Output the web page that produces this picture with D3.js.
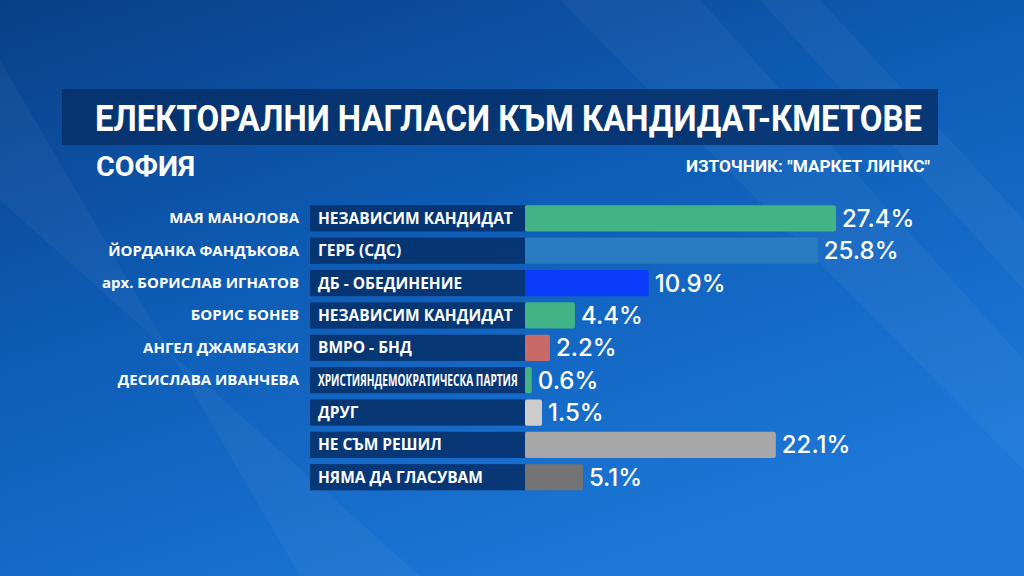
<!DOCTYPE html>
<html>
<head>
<meta charset="utf-8">
<script src="https://cdn.jsdelivr.net/npm/d3@7"></script>
<style>
  html, body { margin: 0; padding: 0; background: #0b4a94; }
  svg { display: block; }
</style>
</head>
<body>
<svg class="vis" width="1024" height="576"></svg>
<script>
// data
const candidates = ["МАЯ МАНОЛОВА", "ЙОРДАНКА ФАНДЪКОВА", "арх. БОРИСЛАВ ИГНАТОВ", "БОРИС БОНЕВ", "АНГЕЛ ДЖАМБАЗКИ", "ДЕСИСЛАВА ИВАНЧЕВА", "", "", ""];
const parties = ["НЕЗАВИСИМ КАНДИДАТ", "ГЕРБ (СДС)", "ДБ - ОБЕДИНЕНИЕ", "НЕЗАВИСИМ КАНДИДАТ", "ВМРО - БНД", "ХРИСТИЯНДЕМОКРАТИЧЕСКА ПАРТИЯ", "ДРУГ", "НЕ СЪМ РЕШИЛ", "НЯМА ДА ГЛАСУВАМ"];
const values = [27.4, 25.8, 10.9, 4.4, 2.2, 0.6, 1.5, 22.1, 5.1];
const barColors = ["#41b386", "#2a7cc0", "#0a3dfb", "#41b386", "#c76a68", "#41b386", "#cdcdcd", "#a7a7a7", "#747474"];

const title = "ЕЛЕКТОРАЛНИ НАГЛАСИ КЪМ КАНДИДАТ-КМЕТОВЕ";
const subtitle = "СОФИЯ";
const source = "ИЗТОЧНИК: \"МАРКЕТ ЛИНКС\"";

const rows = values.map((v, i) => ({
    name: candidates[i], party: parties[i], value: v, color: barColors[i]
}));

const svg = d3.select("svg.vis");
const W = 1024, H = 576;
const font = "'Open Sans', sans-serif";

// background
const defs = svg.append("defs");
const bg = defs.append("linearGradient").attr("id", "bg")
    .attr("x1", "0").attr("y1", "0").attr("x2", "0.6").attr("y2", "1");
bg.append("stop").attr("offset", "0").attr("stop-color", "#0a3f86");
bg.append("stop").attr("offset", "0.45").attr("stop-color", "#0d5bb4");
bg.append("stop").attr("offset", "1").attr("stop-color", "#1d78d8");
svg.append("rect").attr("width", W).attr("height", H).attr("fill", "url(#bg)");

// faint light streaks
const streaks = [
    [[560, 0], [700, 0], [1024, 360], [1024, 470]],
    [[0, 60], [0, 200], [420, 576], [300, 576]],
    [[760, 0], [820, 0], [1024, 220], [1024, 290]]
];
svg.append("g").selectAll("path").data(streaks).join("path")
    .attr("d", d => "M" + d.join("L") + "Z")
    .attr("fill", "#ffffff")
    .attr("opacity", 0.04);

// title banner
svg.append("rect")
    .attr("x", 62).attr("y", 89).attr("width", 876).attr("height", 56)
    .attr("fill", "#06306a").attr("opacity", 0.85);

svg.append("text")
    .attr("x", 95).attr("y", 131)
    .attr("textLength", 827).attr("lengthAdjust", "spacingAndGlyphs")
    .attr("font-family", "Roboto, 'Noto Sans', sans-serif")
    .attr("font-weight", 700).attr("font-size", 36)
    .attr("fill", "#fff")
    .text(title);

svg.append("text")
    .attr("x", 96).attr("y", 176)
    .attr("textLength", 99).attr("lengthAdjust", "spacingAndGlyphs")
    .attr("font-family", "Roboto, 'Noto Sans', sans-serif")
    .attr("font-weight", 700).attr("font-size", 27)
    .attr("fill", "#fff")
    .text(subtitle);

svg.append("text")
    .attr("x", 686).attr("y", 172)
    .attr("textLength", 244).attr("lengthAdjust", "spacingAndGlyphs")
    .attr("font-family", "Roboto, 'Noto Sans', sans-serif")
    .attr("font-weight", 700).attr("font-size", 17)
    .attr("fill", "#fff")
    .text(source);

// scales
const x = d3.scaleLinear().domain([0, 27.4]).range([525, 836]);
const y = d3.scaleBand().domain(d3.range(rows.length))
    .range([202, 202 + 32.4 * rows.length]).paddingInner(0.19).paddingOuter(0.1);
const cy = i => y(i) + y.bandwidth() / 2;

const g = svg.append("g");

// party boxes
g.selectAll("rect.party").data(rows).join("rect")
    .attr("class", "party")
    .attr("x", 310).attr("y", (d, i) => y(i))
    .attr("width", x(0) - 310).attr("height", y.bandwidth())
    .attr("fill", "#06306a").attr("opacity", 0.88);

// party labels, squeezed horizontally when too long for the box
const boxText = x(0) - 318 - 7;
g.selectAll("text.party").data(rows).join("text")
    .attr("class", "party")
    .attr("x", 0).attr("y", 0)
    .attr("font-family", font)
    .attr("font-weight", 700)
    .attr("font-size", 15.5)
    .attr("fill", "#fff")
    .text(d => d.party)
    .attr("transform", function(d, i) {
        const len = this.getComputedTextLength();
        const s = Math.min(1, boxText / len);
        return `translate(318,${cy(i) + 5.5}) scale(${s},1)`;
    });

// candidate names
g.selectAll("text.name").data(rows).join("text")
    .attr("class", "name")
    .attr("x", 299).attr("y", (d, i) => cy(i) + 5)
    .attr("text-anchor", "end")
    .attr("font-family", font)
    .attr("font-weight", 700).attr("font-size", 15)
    .attr("fill", "#fff")
    .text(d => d.name);

// bars
g.selectAll("rect.bar").data(rows).join("rect")
    .attr("class", "bar")
    .attr("x", x(0)).attr("y", (d, i) => y(i))
    .attr("width", d => x(d.value) - x(0)).attr("height", y.bandwidth())
    .attr("rx", 2)
    .attr("fill", d => d.color);

// values
g.selectAll("text.value").data(rows).join("text")
    .attr("class", "value")
    .attr("x", d => x(d.value) + 6).attr("y", (d, i) => cy(i) + 8.5)
    .attr("font-family", "Inter, Roboto, sans-serif")
    .attr("font-weight", 500).attr("font-size", 24)
    .attr("fill", "#fff")
    .text(d => d.value.toFixed(1) + "%");
</script>
</body>
</html>
